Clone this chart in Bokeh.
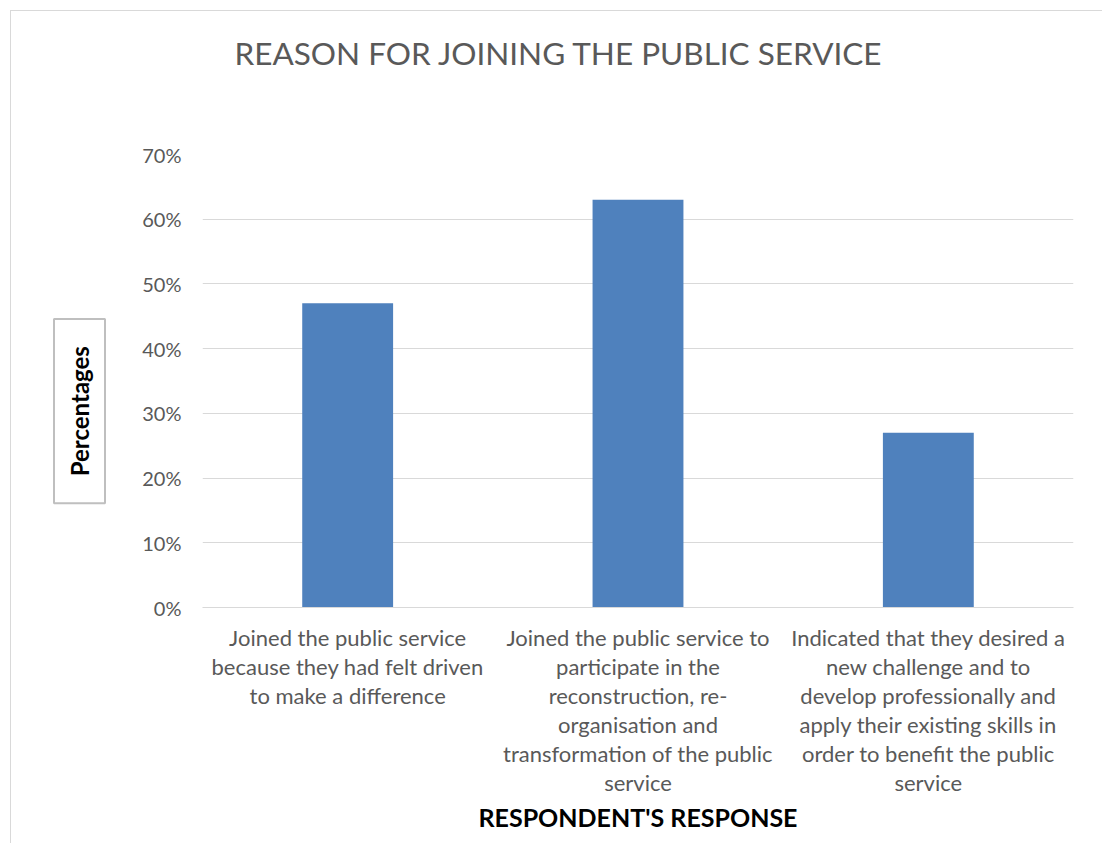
from bokeh.plotting import figure
from bokeh.layouts import row
from bokeh.models import Label, NumeralTickFormatter, FixedTicker, Range1d, Title, LinearAxis
from bokeh.embed import file_html
from bokeh.resources import INLINE

categories = ["Joined the public service because they had felt driven to make a difference",
              "Joined the public service to participate in the reconstruction, re-organisation and transformation of the public service",
              "Indicated that they desired a new challenge and to develop professionally and apply their existing skills in order to benefit the public service"]
label_lines = [["Joined the public service", "because they had felt driven", "to make a difference"],
               ["Joined the public service to", "participate in the", "reconstruction, re-", "organisation and",
                "transformation of the public", "service"],
               ["Indicated that they desired a", "new challenge and to", "develop professionally and",
                "apply their existing skills in", "order to benefit the public", "service"]]
values = [0.47, 0.63, 0.27]
y_ticks = [0, 0.1, 0.2, 0.3, 0.4, 0.5, 0.6, 0.7]

FONT = "Lato"
GREY = "#595959"

xs = [i + 0.5 for i in range(len(categories))]   # centre of each category slot
n_rows = max(len(l) for l in label_lines)

p = figure(x_range=Range1d(0, len(categories)), y_range=Range1d(0, 0.70), width=972, height=833,
           output_backend="svg", toolbar_location=None,
           min_border_left=71, min_border_right=30, min_border_top=143, min_border_bottom=237)

p.vbar(x=xs, top=values, width=0.313, fill_color="#4F81BD", line_color=None)

p.title = Title(text="REASON FOR JOINING THE PUBLIC SERVICE", align="left", offset=32,
                text_font=FONT, text_font_size="31.5px", text_font_style="normal", text_color=GREY)
p.add_layout(Title(text=" ", text_font_size="59px"), "above")

p.outline_line_color = None
p.xgrid.grid_line_color = None
p.ygrid.grid_line_color = "#d9d9d9"
p.ygrid.ticker = FixedTicker(ticks=y_ticks)

p.yaxis.ticker = FixedTicker(ticks=y_ticks)
p.yaxis.formatter = NumeralTickFormatter(format="0%")
p.yaxis.axis_line_color = None
p.yaxis.major_tick_line_color = None
p.yaxis.minor_tick_line_color = None
p.yaxis.major_tick_out = 0
p.yaxis.major_label_text_font = FONT
p.yaxis.major_label_text_font_size = "20px"
p.yaxis.major_label_text_color = GREY
p.yaxis.major_label_standoff = 21

# one axis per wrapped line of the category labels
axes = [p.xaxis[0]]
for i in range(1, n_rows):
    ax = LinearAxis()
    p.add_layout(ax, "below")
    axes.append(ax)

for i, ax in enumerate(axes):
    ax.ticker = FixedTicker(ticks=xs)
    ax.major_label_overrides = {x: (lines[i] if i < len(lines) else " ") for x, lines in zip(xs, label_lines)}
    ax.axis_line_color = "#d9d9d9" if i == 0 else None
    ax.major_tick_line_color = None
    ax.minor_tick_line_color = None
    ax.major_tick_out = 0
    ax.major_tick_in = 0
    ax.major_label_text_font = FONT
    ax.major_label_text_font_size = "22px"
    ax.major_label_text_color = GREY
    ax.major_label_standoff = 16 if i == 0 else -1

last = axes[-1]
last.axis_label = "RESPONDENT'S RESPONSE"
last.axis_label_text_font = FONT
last.axis_label_text_font_size = "25px"
last.axis_label_text_font_style = "bold"
last.axis_label_text_color = "#000000"
last.axis_label_standoff = 3

# left strip holding the boxed y-axis title
side = figure(x_range=Range1d(0, 120), y_range=Range1d(833, 0), width=120, height=833,
              output_backend="svg", toolbar_location=None, min_border=0,
              x_axis_location=None, y_axis_location=None)
side.grid.visible = False
side.outline_line_color = None
side.add_layout(Label(x=68, y=472, text="Percentages", angle=1.5708,
                      text_align="center", text_baseline="middle", text_font=FONT, text_font_size="24px",
                      text_font_style="bold", text_color="#000000",
                      border_line_color="#bfbfbf", border_line_width=2, background_fill_color="white",
                      padding=(27, 11)))

layout = row(side, p)
layout.styles = {"margin-left": "10px", "margin-top": "10px",
                 "border-left": "1px solid #d9d9d9", "border-top": "1px solid #d9d9d9"}

open("out.html", "w").write(file_html(layout, INLINE))
